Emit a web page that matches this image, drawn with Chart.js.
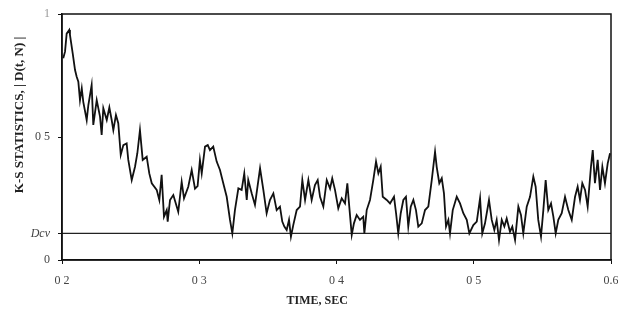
<!DOCTYPE html>
<html>
<head>
<meta charset="utf-8">
<script src="https://cdn.jsdelivr.net/npm/chart.js@4"></script>
<style>
  html, body { margin: 0; padding: 0; background: #fff; }
  canvas { display: block; }
</style>
</head>
<body>
<canvas id="ksChart" width="618" height="320"></canvas>
<script>
// time axis (sec) and K-S statistic
const timeSec = [
  0.2009, 0.2022, 0.2034, 0.2053, 0.2058, 0.2078, 0.2095, 0.2107, 0.2119, 0.2131,
  0.2144, 0.2155, 0.2180, 0.2192, 0.2216, 0.2228, 0.2253, 0.2277, 0.2289, 0.2301,
  0.2326, 0.2345, 0.2362, 0.2374, 0.2393, 0.2410, 0.2428, 0.2447, 0.2471, 0.2483,
  0.2508, 0.2532, 0.2549, 0.2568, 0.2588, 0.2617, 0.2636, 0.2654, 0.2690, 0.2709,
  0.2726, 0.2743, 0.2763, 0.2770, 0.2787, 0.2811, 0.2847, 0.2872, 0.2889, 0.2920,
  0.2945, 0.2969, 0.2988, 0.3005, 0.3018, 0.3042, 0.3062, 0.3078, 0.3102, 0.3127,
  0.3151, 0.3175, 0.3200, 0.3224, 0.3241, 0.3260, 0.3285, 0.3309, 0.3328, 0.3346,
  0.3357, 0.3382, 0.3406, 0.3443, 0.3467, 0.3491, 0.3515, 0.3540, 0.3564, 0.3588,
  0.3605, 0.3620, 0.3637, 0.3654, 0.3668, 0.3685, 0.3710, 0.3734, 0.3751, 0.3771,
  0.3795, 0.3819, 0.3843, 0.3863, 0.3880, 0.3904, 0.3929, 0.3953, 0.3969, 0.3989,
  0.4013, 0.4038, 0.4062, 0.4079, 0.4093, 0.4111, 0.4127, 0.4147, 0.4171, 0.4195,
  0.4203, 0.4220, 0.4244, 0.4268, 0.4288, 0.4305, 0.4322, 0.4337, 0.4366, 0.4390,
  0.4419, 0.4434, 0.4450, 0.4468, 0.4487, 0.4506, 0.4523, 0.4541, 0.4560, 0.4579,
  0.4596, 0.4621, 0.4645, 0.4669, 0.4694, 0.4718, 0.4730, 0.4749, 0.4767, 0.4783,
  0.4798, 0.4815, 0.4827, 0.4847, 0.4876, 0.4900, 0.4924, 0.4949, 0.4968, 0.4997,
  0.5022, 0.5046, 0.5062, 0.5082, 0.5111, 0.5131, 0.5150, 0.5167, 0.5184, 0.5204,
  0.5223, 0.5240, 0.5264, 0.5281, 0.5301, 0.5325, 0.5344, 0.5361, 0.5386, 0.5410,
  0.5434, 0.5451, 0.5470, 0.5490, 0.5507, 0.5524, 0.5543, 0.5563, 0.5580, 0.5597,
  0.5616, 0.5641, 0.5665, 0.5689, 0.5714, 0.5738, 0.5757, 0.5774, 0.5791, 0.5811,
  0.5830, 0.5854, 0.5867, 0.5883, 0.5903, 0.5920, 0.5937, 0.5956, 0.5976, 0.5993
];
const ksStat = [
  0.820, 0.847, 0.920, 0.935, 0.915, 0.840, 0.772, 0.745, 0.725, 0.650,
  0.698, 0.643, 0.569, 0.630, 0.711, 0.549, 0.650, 0.583, 0.508, 0.617,
  0.569, 0.620, 0.569, 0.528, 0.589, 0.556, 0.427, 0.467, 0.474, 0.407,
  0.325, 0.379, 0.434, 0.528, 0.407, 0.420, 0.352, 0.312, 0.285, 0.244,
  0.346, 0.176, 0.203, 0.156, 0.244, 0.264, 0.196, 0.318, 0.251, 0.298,
  0.366, 0.290, 0.300, 0.407, 0.352, 0.461, 0.467, 0.447, 0.461, 0.400,
  0.366, 0.312, 0.257, 0.163, 0.108, 0.203, 0.291, 0.285, 0.352, 0.244,
  0.325, 0.271, 0.224, 0.373, 0.285, 0.190, 0.244, 0.271, 0.203, 0.217,
  0.156, 0.136, 0.122, 0.163, 0.095, 0.142, 0.203, 0.217, 0.325, 0.244,
  0.325, 0.244, 0.305, 0.325, 0.257, 0.217, 0.325, 0.290, 0.332, 0.285,
  0.210, 0.251, 0.230, 0.312, 0.217, 0.102, 0.149, 0.183, 0.163, 0.176,
  0.108, 0.203, 0.244, 0.325, 0.400, 0.352, 0.379, 0.257, 0.244, 0.230,
  0.257, 0.190, 0.108, 0.190, 0.244, 0.257, 0.136, 0.217, 0.244, 0.203,
  0.136, 0.149, 0.203, 0.217, 0.325, 0.440, 0.379, 0.312, 0.332, 0.271,
  0.136, 0.163, 0.108, 0.203, 0.257, 0.230, 0.190, 0.163, 0.108, 0.142,
  0.156, 0.251, 0.108, 0.149, 0.244, 0.163, 0.122, 0.163, 0.081, 0.163,
  0.136, 0.169, 0.115, 0.136, 0.081, 0.217, 0.183, 0.108, 0.217, 0.257,
  0.339, 0.298, 0.163, 0.095, 0.203, 0.325, 0.203, 0.230, 0.176, 0.108,
  0.163, 0.190, 0.257, 0.203, 0.163, 0.257, 0.298, 0.244, 0.312, 0.285,
  0.217, 0.379, 0.447, 0.312, 0.407, 0.285, 0.379, 0.312, 0.393, 0.434
];
const dcv = 0.108;
const xTickValues = [0.2, 0.3, 0.4, 0.5, 0.6];
const xTickLabels = ['0 2', '0 3', '0 4', '0 5', '0.6'];
const yTickValues = [0, dcv, 0.5, 1];
const yTickLabels = ['0', 'Dcv', '0 5', '1'];

const serif = '"Liberation Serif", "DejaVu Serif", serif';

// box round the plot plus the two axis titles
const framePlugin = {
  id: 'frame',
  afterDraw(chart) {
    const { ctx, chartArea: a } = chart;
    ctx.save();
    ctx.strokeStyle = '#111';
    ctx.lineWidth = 1.5;
    ctx.strokeRect(a.left, a.top, a.right - a.left, a.bottom - a.top);

    ctx.fillStyle = '#222';
    ctx.font = 'bold 12px ' + serif;
    ctx.textAlign = 'center';
    ctx.textBaseline = 'middle';
    ctx.fillText('TIME, SEC', a.left + (a.right - a.left) * 0.465, 301);

    ctx.font = 'bold 13px ' + serif;
    ctx.translate(20, a.top + (a.bottom - a.top) * 0.41);
    ctx.rotate(-Math.PI / 2);
    ctx.fillText('K-S STATISTICS, | D(t, N) |', 0, 0);
    ctx.restore();
  }
};

const ctx = document.getElementById('ksChart').getContext('2d');
new Chart(ctx, {
  type: 'line',
  data: {
    datasets: [
      {
        label: 'K-S',
        data: timeSec.map((t, i) => ({ x: t, y: ksStat[i] })),
        borderColor: '#111',
        borderWidth: 1.8,
        pointRadius: 0,
        tension: 0,
        fill: false
      },
      {
        label: 'Dcv',
        data: [{ x: xTickValues[0], y: dcv }, { x: xTickValues[xTickValues.length - 1], y: dcv }],
        borderColor: '#222',
        borderWidth: 1.3,
        pointRadius: 0,
        fill: false
      }
    ]
  },
  options: {
    responsive: false,
    animation: false,
    layout: { padding: { left: 0, right: 7, top: 14, bottom: 0 } },
    plugins: {
      legend: { display: false },
      tooltip: { enabled: false }
    },
    scales: {
      x: {
        type: 'linear',
        min: 0.2,
        max: 0.6,
        afterBuildTicks: scale => { scale.ticks = xTickValues.map(v => ({ value: v })); },
        afterFit: scale => {
          scale.height = 60;
          scale.paddingLeft = 0;
          scale.paddingRight = 0;
        },
        ticks: {
          callback: (v, i) => xTickLabels[i],
          color: '#444',
          font: { family: serif, size: 12 },
          padding: 10,
          maxRotation: 0
        },
        grid: { drawOnChartArea: false, tickLength: 4, color: '#111' },
        border: { color: '#111', width: 1.5 }
      },
      y: {
        min: 0,
        max: 1,
        afterBuildTicks: scale => { scale.ticks = yTickValues.map(v => ({ value: v })); },
        afterFit: scale => {
          scale.width = 62;
          scale.paddingTop = 0;
          scale.paddingBottom = 0;
        },
        ticks: {
          callback: (v, i) => yTickLabels[i],
          color: c => (c.index === 3 ? '#999' : '#444'),
          font: c => (c.index === 1
            ? { family: serif, size: 12, style: 'italic' }
            : { family: serif, size: 12 }),
          padding: 8
        },
        grid: { drawOnChartArea: false, tickLength: 4, color: '#111' },
        border: { color: '#111', width: 1.5 }
      }
    }
  },
  plugins: [framePlugin]
});
</script>
</body>
</html>
